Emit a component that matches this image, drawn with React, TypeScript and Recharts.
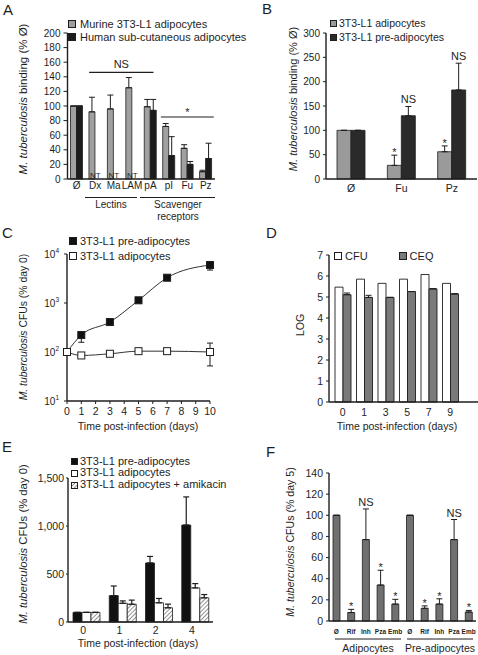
import React from 'react';
import {
  BarChart,
  Bar,
  LineChart,
  Line,
  XAxis,
  YAxis,
  ErrorBar,
  LabelList,
  ReferenceLine,
  Legend,
} from 'recharts';

const FONT = '"Liberation Sans", Arial, Helvetica, sans-serif';
const INK = '#1e1e1e';

// ---------------- Panel A ----------------
const aCategories = ['Ø', 'Dx', 'Ma', 'LAM', 'pA', 'pI', 'Fu', 'Pz'];
const aMurine = [100, 92, 96, 125, 99, 72, 42, 10];
const aMurineTop = [100, 112, 115, 139, 109, 76, 47, 12];
const aHuman = [100, 0, 0, 0, 94, 32, 20, 28];
const aHumanTop = [100, 0, 0, 0, 109, 58, 24, 49];
const aHumanNotes = ['', 'NT', 'NT', 'NT', '', '', '', ''];
const aTicks = [0, 20, 40, 60, 80, 100, 120, 140, 160, 180, 200];
const aSeriesNames = ['Murine 3T3-L1 adipocytes', 'Human sub-cutaneous adipocytes'];

// ---------------- Panel B ----------------
const bCategories = ['Ø', 'Fu', 'Pz'];
const bAdipocytes = [100, 28, 56];
const bAdipocytesTop = [100, 49, 68];
const bPre = [100, 130, 183];
const bPreTop = [100, 149, 238];
const bAdNotes = ['', '*', '*'];
const bPreNotes = ['', 'NS', 'NS'];
const bTicks = [0, 50, 100, 150, 200, 250, 300];
const bSeriesNames = ['3T3-L1 adipocytes', '3T3-L1 pre-adipocytes'];

// ---------------- Panel C ----------------
const cDays = [0, 1, 3, 5, 7, 10];
const cPre = [100, 222, 409, 1135, 3280, 5970];
const cPreLow = [100, 158, 409, 1135, 3280, 4700];
const cPreHigh = [100, 240, 409, 1135, 3280, 6900];
const cAd = [100, 85, 92, 104, 104, 100];
const cAdLow = [100, 85, 92, 104, 104, 52];
const cAdHigh = [100, 85, 92, 104, 104, 152];
const cTicksY = [10, 100, 1000, 10000];
const cTicksX = [0, 1, 2, 3, 4, 5, 6, 7, 8, 9, 10];
const cSeriesNames = ['3T3-L1 pre-adipocytes', '3T3-L1 adipocytes'];

// ---------------- Panel D ----------------
const dDays = ['0', '1', '3', '5', '7', '9'];
const dCFU = [5.47, 5.85, 5.65, 5.85, 6.07, 5.65];
const dCEQ = [5.11, 4.98, 4.98, 5.26, 5.39, 5.15];
const dCEQTop = [5.19, 5.08, 4.98, 5.26, 5.39, 5.15];
const dTicks = [0, 1, 2, 3, 4, 5, 6, 7];
const dSeriesNames = ['CFU', 'CEQ'];

// ---------------- Panel E ----------------
const eDays = ['0', '1', '2', '4'];
const ePre = [100, 275, 615, 1010];
const ePreTop = [100, 375, 683, 1303];
const eAd = [100, 195, 200, 355];
const eAdTop = [100, 220, 245, 400];
const eAmi = [100, 185, 148, 252];
const eAmiTop = [100, 228, 186, 286];
const eTicks = [0, 500, 1000, 1500];
const eSeriesNames = ['3T3-L1 pre-adipocytes', '3T3-L1 adipocytes', '3T3-L1 adipocytes + amikacin'];

// ---------------- Panel F ----------------
const fDrugs = ['Ø', 'Rif', 'Inh', 'Pza', 'Emb', 'Ø', 'Rif', 'Inh', 'Pza', 'Emb'];
const fValues = [100, 8, 77, 34, 16, 100, 12, 16, 77, 8.5];
const fTops = [100, 11, 106, 48, 20.5, 100, 14.3, 21, 96, 10];
const fNotes = ['', '*', 'NS', '*', '*', '', '*', '*', 'NS', '*'];
const fTicks = [0, 20, 40, 60, 80, 100, 120, 140];

// ---------------- data tables ----------------
const aData = aCategories.map((cat, i) => ({
  cat,
  murine: aMurine[i],
  murineErr: [0, aMurineTop[i] - aMurine[i]],
  human: aHuman[i],
  humanErr: [0, Math.max(0, aHumanTop[i] - aHuman[i])],
}));
const bData = bCategories.map((cat, i) => ({
  cat,
  ad: bAdipocytes[i],
  adErr: [0, bAdipocytesTop[i] - bAdipocytes[i]],
  pre: bPre[i],
  preErr: [0, bPreTop[i] - bPre[i]],
}));
const cData = cDays.map((day, i) => ({
  day,
  pre: cPre[i],
  preErr: [cPre[i] - cPreLow[i], cPreHigh[i] - cPre[i]],
  ad: cAd[i],
  adErr: [cAd[i] - cAdLow[i], cAdHigh[i] - cAd[i]],
}));
const dData = dDays.map((day, i) => ({
  day,
  cfu: dCFU[i],
  ceq: dCEQ[i],
  ceqErr: [0, Math.max(0, dCEQTop[i] - dCEQ[i])],
}));
const eData = eDays.map((day, i) => ({
  day,
  pre: ePre[i],
  preErr: [0, ePreTop[i] - ePre[i]],
  ad: eAd[i],
  adErr: [0, eAdTop[i] - eAd[i]],
  ami: eAmi[i],
  amiErr: [0, eAmiTop[i] - eAmi[i]],
}));
const fData = fDrugs.map((drug, i) => ({
  id: `d${i}`,
  drug,
  value: fValues[i],
  err: [0, fTops[i] - fValues[i]],
}));

// ---------------- helpers ----------------
const box = (props: any) => {
  const vb = props.viewBox && props.viewBox.width != null ? props.viewBox : props;
  return { x: Number(vb.x), y: Number(vb.y), w: Number(vb.width), h: Number(vb.height) };
};

function noteRenderer(notes: string[], values: number[], tops: number[], fontSize = 11) {
  return (props: any) => {
    const idx = props.index;
    const note = notes[idx];
    if (!note) return null;
    const { x, y, w, h } = box(props);
    const v = values[idx];
    const ppu = v > 0 ? h / v : 0;
    const yTop = y - (tops[idx] - v) * ppu;
    const off = note === '*' ? 1 : -3;
    return (
      <text key={`n${idx}`} x={x + w / 2} y={yTop + off} textAnchor="middle" fontSize={fontSize} fill={INK}>
        {note}
      </text>
    );
  };
}

// "NT" notes for the (absent) human bars, attached to the murine bar of each category
const ntRenderer = (props: any) => {
  const idx = props.index;
  const note = aHumanNotes[idx];
  if (!note) return null;
  const { x, y, w, h } = box(props);
  return (
    <text key={`nt${idx}`} x={x + w + 0.5} y={y + h - 1.5} textAnchor="middle" fontSize={8} fill={INK}>
      {note}
    </text>
  );
};

const bracket = (label: string, extL: number, extR: number, fontSize = 11) => (p: any) => {
  const l = Math.min(p.x1, p.x2) - extL;
  const r = Math.max(p.x1, p.x2) + extR;
  const y = p.y1;
  return (
    <g>
      <line x1={l} y1={y} x2={r} y2={y} stroke={INK} strokeWidth={1.1} />
      <text x={(l + r) / 2} y={label === '*' ? y - 1 : y - 4} textAnchor="middle" fontSize={fontSize} fill={INK}>
        {label}
      </text>
    </g>
  );
};

type LItem = { label: string; fill: string; hatch?: boolean };
function legendContent(items: LItem[], o: { fontSize: number; rowH: number; box: number; gap: number; horizontal?: boolean; itemGap?: number }) {
  return () => (
    <div
      style={{
        display: 'flex',
        flexDirection: o.horizontal ? 'row' : 'column',
        fontFamily: FONT,
        fontSize: o.fontSize,
        color: INK,
      }}
    >
      {items.map((it, i) => (
        <div
          key={i}
          style={{
            display: 'flex',
            alignItems: 'center',
            height: o.rowH,
            whiteSpace: 'nowrap',
            marginRight: o.horizontal ? o.itemGap || 0 : 0,
          }}
        >
          <svg width={o.box} height={o.box} style={{ marginRight: o.gap, flex: 'none', display: 'block' }}>
            {it.hatch && (
              <defs>
                <pattern id={`lh${i}`} width="3" height="3" patternUnits="userSpaceOnUse" patternTransform="rotate(45)">
                  <rect width="3" height="3" fill="#fff" />
                  <line x1="0" y1="0" x2="0" y2="3" stroke="#666" strokeWidth="1.4" />
                </pattern>
              </defs>
            )}
            <rect x={0.5} y={0.5} width={o.box - 1} height={o.box - 1} fill={it.hatch ? `url(#lh${i})` : it.fill} stroke={INK} strokeWidth={1} />
          </svg>
          <span style={{ lineHeight: `${o.rowH}px` }}>{it.label}</span>
        </div>
      ))}
    </div>
  );
}

const tickStyle = (fs: number) => ({ fill: INK, fontSize: fs });
const axisLine = { stroke: INK, strokeWidth: 1.4 };
const tickLine = { stroke: INK, strokeWidth: 1 };

const LogTick = (props: any) => {
  const { x, y, payload } = props;
  const exp = Math.round(Math.log10(payload.value));
  return (
    <text x={x} y={y} dy={4} textAnchor="end" fontSize={10} fill={INK}>
      10
      <tspan dy={-5} fontSize={6.5}>
        {exp}
      </tspan>
    </text>
  );
};

const squareDot = (fill: string) => (p: any) => {
  const { cx, cy, index } = p;
  if (cx == null || cy == null) return <g key={`e${index}`} />;
  return <rect key={`s${index}`} x={cx - 3.5} y={cy - 3.5} width={7} height={7} fill={fill} stroke={INK} strokeWidth={1} />;
};

const pos = (left: number, top: number, width: number, height: number): React.CSSProperties => ({
  position: 'absolute',
  left,
  top,
  width,
  height,
});

const legendProps = { layout: 'vertical' as const, align: 'center' as const, verticalAlign: 'middle' as const };

export default function App() {
  return (
    <div style={{ position: 'absolute', left: 0, top: 0, width: 478, height: 655, background: '#fff', fontFamily: FONT, overflow: 'hidden' }}>
      {/* ---------- A ---------- */}
      <div style={pos(0, 0, 239, 215)}>
        <BarChart width={239} height={215} data={aData} margin={{ top: 33, right: 24, bottom: 16, left: 0 }} barGap={0} barSize={6}>
          <XAxis dataKey="cat" height={20} interval={0} tick={tickStyle(10)} tickLine={false} tickSize={1} tickMargin={2} axisLine={axisLine} />
          <YAxis width={67.5} domain={[0, 200]} ticks={aTicks} interval={0} tick={tickStyle(10)} tickSize={4} tickMargin={3} tickLine={tickLine} axisLine={axisLine} />
          <Bar dataKey="murine" fill="#a0a0a0" stroke={INK} strokeWidth={0.8} isAnimationActive={false}>
            <ErrorBar dataKey="murineErr" width={3} stroke={INK} strokeWidth={1} />
            <LabelList dataKey="murine" content={ntRenderer} />
          </Bar>
          <Bar dataKey="human" fill="#1c1c1c" stroke={INK} strokeWidth={0.8} isAnimationActive={false}>
            <ErrorBar dataKey="humanErr" width={3} stroke={INK} strokeWidth={1} />
          </Bar>
          <ReferenceLine segment={[{ x: 'Dx', y: 146 }, { x: 'pA', y: 146 }]} shape={bracket('NS', 6, 3)} />
          <ReferenceLine segment={[{ x: 'pI', y: 85 }, { x: 'Pz', y: 85 }]} shape={bracket('*', 8, 8)} />
          <Legend
            {...legendProps}
            wrapperStyle={{ left: 68, top: 17.5, width: 'auto', height: 'auto' }}
            content={legendContent(
              [
                { label: aSeriesNames[0], fill: '#a0a0a0' },
                { label: aSeriesNames[1], fill: '#1c1c1c' },
              ],
              { fontSize: 11, rowH: 13, box: 8, gap: 4 }
            )}
          />
        </BarChart>
      </div>

      {/* ---------- B ---------- */}
      <div style={pos(239, 0, 239, 215)}>
        <BarChart width={239} height={215} data={bData} margin={{ top: 33, right: 1, bottom: 16, left: 0 }} barGap={0} barSize={14}>
          <XAxis dataKey="cat" height={20} interval={0} tick={tickStyle(10.5)} tickLine={false} tickSize={3} tickMargin={3} axisLine={axisLine} />
          <YAxis width={87} domain={[0, 300]} ticks={bTicks} interval={0} tick={tickStyle(10)} tickSize={3} tickMargin={3} tickLine={tickLine} axisLine={axisLine} />
          <Bar dataKey="ad" fill="#9a9a9a" stroke={INK} strokeWidth={0.8} isAnimationActive={false}>
            <ErrorBar dataKey="adErr" width={3} stroke={INK} strokeWidth={1} />
            <LabelList dataKey="ad" content={noteRenderer(bAdNotes, bAdipocytes, bAdipocytesTop)} />
          </Bar>
          <Bar dataKey="pre" fill="#2a2a2a" stroke={INK} strokeWidth={0.8} isAnimationActive={false}>
            <ErrorBar dataKey="preErr" width={3} stroke={INK} strokeWidth={1} />
            <LabelList dataKey="pre" content={noteRenderer(bPreNotes, bPre, bPreTop)} />
          </Bar>
          <Legend
            {...legendProps}
            wrapperStyle={{ left: 91, top: 17, width: 'auto', height: 'auto' }}
            content={legendContent(
              [
                { label: bSeriesNames[0], fill: '#9a9a9a' },
                { label: bSeriesNames[1], fill: '#2a2a2a' },
              ],
              { fontSize: 10.5, rowH: 13.5, box: 7, gap: 2 }
            )}
          />
        </BarChart>
      </div>

      {/* ---------- C ---------- */}
      <div style={pos(0, 215, 239, 205)}>
        <LineChart width={239} height={205} data={cData} margin={{ top: 39, right: 29, bottom: 5, left: 0 }}>
          <XAxis dataKey="day" type="number" domain={[0, 10]} ticks={cTicksX} interval={0} height={14} tick={tickStyle(10.5)} tickSize={3} tickMargin={4} tickLine={tickLine} axisLine={axisLine} />
          <YAxis width={67} type="number" scale="log" domain={[10, 10000]} allowDataOverflow ticks={cTicksY} interval={0} tick={<LogTick />} tickSize={3} tickMargin={5} tickLine={tickLine} axisLine={axisLine} />
          <Line dataKey="pre" type="monotone" stroke="#333" strokeWidth={1} dot={squareDot('#111')} activeDot={false} isAnimationActive={false}>
            <ErrorBar dataKey="preErr" width={3} stroke={INK} strokeWidth={1} />
          </Line>
          <Line dataKey="ad" type="monotone" stroke="#333" strokeWidth={1} dot={squareDot('#ffffff')} activeDot={false} isAnimationActive={false}>
            <ErrorBar dataKey="adErr" width={3} stroke={INK} strokeWidth={1} />
          </Line>
          <Legend
            {...legendProps}
            wrapperStyle={{ left: 69, top: 18.5, width: 'auto', height: 'auto' }}
            content={legendContent(
              [
                { label: cSeriesNames[0], fill: '#111' },
                { label: cSeriesNames[1], fill: '#fff' },
              ],
              { fontSize: 11, rowH: 15, box: 8, gap: 3 }
            )}
          />
        </LineChart>
      </div>

      {/* ---------- D ---------- */}
      <div style={pos(239, 215, 239, 205)}>
        <BarChart width={239} height={205} data={dData} margin={{ top: 40, right: 0, bottom: 5, left: 0 }} barGap={0} barSize={8}>
          <XAxis dataKey="day" height={13} interval={0} padding={{ left: 3, right: 17 }} tick={tickStyle(10.5)} tickSize={3} tickMargin={4} tickLine={false} axisLine={axisLine} />
          <YAxis width={90} domain={[0, 7]} ticks={dTicks} interval={0} tick={tickStyle(10.5)} tickSize={3} tickMargin={3} tickLine={tickLine} axisLine={axisLine} />
          <Bar dataKey="cfu" fill="#ffffff" stroke={INK} strokeWidth={0.9} isAnimationActive={false} />
          <Bar dataKey="ceq" fill="#7a7a7a" stroke={INK} strokeWidth={0.9} isAnimationActive={false}>
            <ErrorBar dataKey="ceqErr" width={3} stroke={INK} strokeWidth={1} />
          </Bar>
          <Legend
            {...legendProps}
            wrapperStyle={{ left: 95, top: 34.5, width: 'auto', height: 'auto' }}
            content={legendContent(
              [
                { label: dSeriesNames[0], fill: '#ffffff' },
                { label: dSeriesNames[1], fill: '#7a7a7a' },
              ],
              { fontSize: 11, rowH: 13, box: 8, gap: 3, horizontal: true, itemGap: 31 }
            )}
          />
        </BarChart>
      </div>

      {/* ---------- E ---------- */}
      <div style={pos(0, 430, 239, 225)}>
        <BarChart width={239} height={225} data={eData} margin={{ top: 48, right: 26, bottom: 19, left: 0 }} barGap={0} barSize={9}>
          <defs>
            <pattern id="hatchE" width="3" height="3" patternUnits="userSpaceOnUse" patternTransform="rotate(45)">
              <rect width="3" height="3" fill="#fff" />
              <line x1="0" y1="0" x2="0" y2="3" stroke="#666" strokeWidth="1.4" />
            </pattern>
          </defs>
          <XAxis dataKey="day" height={14} interval={0} tick={{ ...tickStyle(10.5), dx: -3 }} tickSize={2} tickMargin={3} tickLine={false} axisLine={axisLine} />
          <YAxis
            width={68}
            domain={[0, 1500]}
            ticks={eTicks}
            interval={0}
            tickFormatter={(v: number) => v.toLocaleString('en-US')}
            tick={tickStyle(10.5)}
            tickSize={2}
            tickMargin={2}
            tickLine={tickLine}
            axisLine={axisLine}
          />
          <Bar dataKey="pre" fill="#111" stroke={INK} strokeWidth={0.8} isAnimationActive={false}>
            <ErrorBar dataKey="preErr" width={3} stroke={INK} strokeWidth={1.2} />
          </Bar>
          <Bar dataKey="ad" fill="#fff" stroke={INK} strokeWidth={0.8} isAnimationActive={false}>
            <ErrorBar dataKey="adErr" width={3} stroke={INK} strokeWidth={1.2} />
          </Bar>
          <Bar dataKey="ami" fill="url(#hatchE)" stroke={INK} strokeWidth={0.8} isAnimationActive={false}>
            <ErrorBar dataKey="amiErr" width={3} stroke={INK} strokeWidth={1.2} />
          </Bar>
          <Legend
            {...legendProps}
            wrapperStyle={{ left: 71, top: 25.8, width: 'auto', height: 'auto' }}
            content={legendContent(
              [
                { label: eSeriesNames[0], fill: '#111' },
                { label: eSeriesNames[1], fill: '#fff' },
                { label: eSeriesNames[2], fill: '#fff', hatch: true },
              ],
              { fontSize: 11, rowH: 11.7, box: 7, gap: 2 }
            )}
          />
        </BarChart>
      </div>

      {/* ---------- F ---------- */}
      <div style={pos(239, 430, 239, 225)}>
        <BarChart width={239} height={225} data={fData} margin={{ top: 43, right: 2, bottom: 20, left: 0 }} barSize={7}>
          <XAxis
            dataKey="id"
            height={14}
            interval={0}
            tickFormatter={(_v: any, i: number) => fDrugs[i]}
            tick={{ fill: INK, fontSize: 6.5, fontWeight: 'bold' }}
            tickSize={3}
            tickMargin={5}
            tickLine={false}
            axisLine={axisLine}
          />
          <YAxis width={90} domain={[0, 140]} ticks={fTicks} interval={0} tick={tickStyle(10.5)} tickSize={3} tickMargin={3} tickLine={tickLine} axisLine={axisLine} />
          <Bar dataKey="value" fill="#707070" stroke={INK} strokeWidth={0.8} isAnimationActive={false}>
            <ErrorBar dataKey="err" width={3} stroke={INK} strokeWidth={1} />
            <LabelList dataKey="value" content={noteRenderer(fNotes, fValues, fTops)} />
          </Bar>
        </BarChart>
      </div>

      {/* ---------- overlay: panel letters, axis titles, group labels ---------- */}
      <svg width={478} height={655} style={{ position: 'absolute', left: 0, top: 0, pointerEvents: 'none' }} fontFamily={FONT} fill={INK}>
        <g fontSize={15}>
          <text x={3} y={15}>A</text>
          <text x={262} y={13.5}>B</text>
          <text x={2} y={238}>C</text>
          <text x={266} y={238}>D</text>
          <text x={2} y={452}>E</text>
          <text x={266} y={456.5}>F</text>
        </g>

        <text transform="translate(23,99) rotate(-90)" textAnchor="middle" dominantBaseline="central" fontSize={11.5}>
          <tspan fontStyle="italic">M. tuberculosis</tspan> binding (% Ø)
        </text>
        <text transform="translate(293,99) rotate(-90)" textAnchor="middle" dominantBaseline="central" fontSize={11}>
          <tspan fontStyle="italic">M. tuberculosis</tspan> binding (% Ø)
        </text>
        <text transform="translate(23,327) rotate(-90)" textAnchor="middle" dominantBaseline="central" fontSize={10.4}>
          <tspan fontStyle="italic">M. tuberculosis</tspan> CFUs (% day 0)
        </text>
        <text transform="translate(300,325) rotate(-90)" textAnchor="middle" dominantBaseline="central" fontSize={10.5}>
          LOG
        </text>
        <text transform="translate(23,544) rotate(-90)" textAnchor="middle" dominantBaseline="central" fontSize={11.3}>
          <tspan fontStyle="italic">M. tuberculosis</tspan> CFUs (% day 0)
        </text>
        <text transform="translate(290,542) rotate(-90)" textAnchor="middle" dominantBaseline="central" fontSize={10.6}>
          <tspan fontStyle="italic">M. tuberculosis</tspan> CFUs (% day 5)
        </text>

        <g fontSize={10.5} textAnchor="middle">
          <text x={138} y={430}>Time post-infection (days)</text>
          <text x={397} y={430}>Time post-infection (days)</text>
          <text x={138} y={647}>Time post-infection (days)</text>
        </g>

        <g stroke={INK} strokeWidth={1}>
          <line x1={85} y1={197.5} x2={137} y2={197.5} />
          <line x1={140} y1={197.5} x2={215} y2={197.5} />
          <line x1={335} y1={639} x2={401} y2={639} />
          <line x1={407} y1={639} x2={473} y2={639} />
        </g>
        <g fontSize={10} textAnchor="middle">
          <text x={111} y={208}>Lectins</text>
          <text x={178} y={208}>Scavenger</text>
          <text x={178} y={219.5}>receptors</text>
        </g>
        <g fontSize={10.5} textAnchor="middle">
          <text x={368} y={652}>Adipocytes</text>
          <text x={440} y={652}>Pre-adipocytes</text>
        </g>
      </svg>
    </div>
  );
}
